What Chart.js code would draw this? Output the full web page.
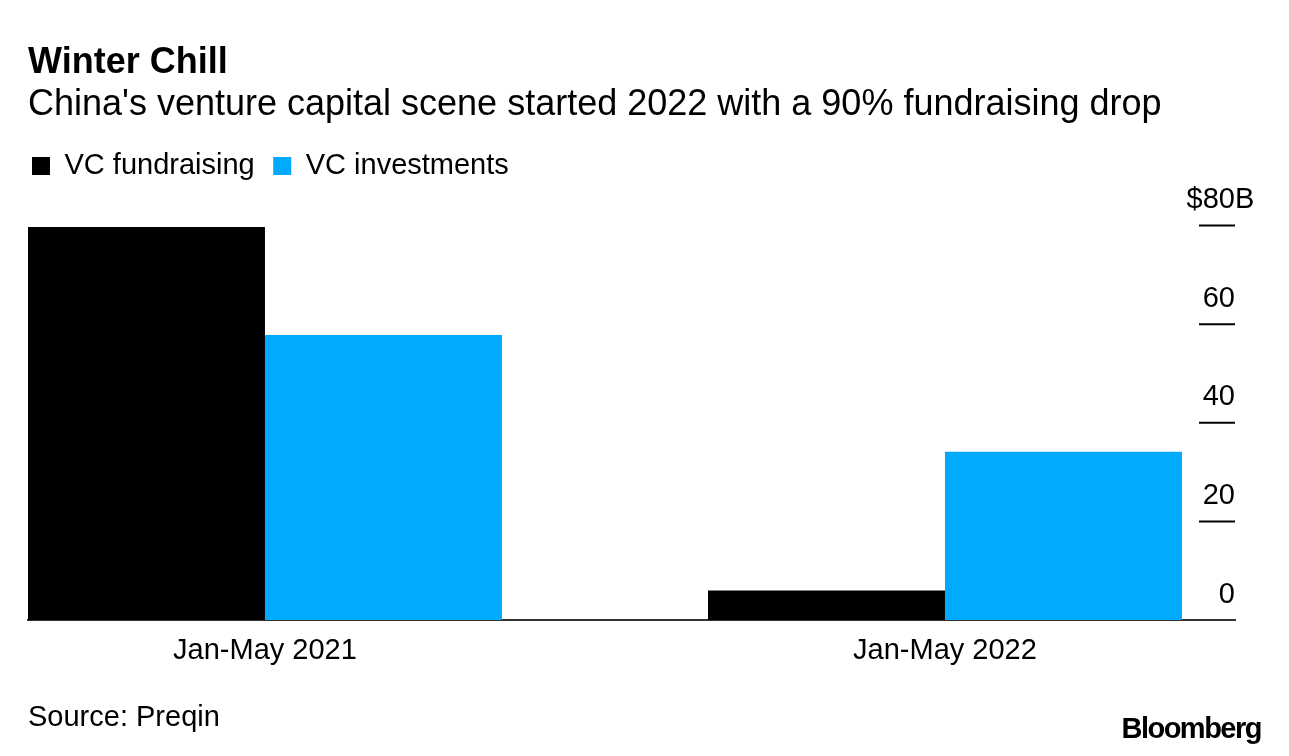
<!DOCTYPE html>
<html>
<head>
<meta charset="utf-8">
<script src="https://cdn.jsdelivr.net/npm/chart.js@4"></script>
<style>
  html, body { margin: 0; padding: 0; background: #fff; }
  #wrap { width: 1289px; height: 756px; position: relative; }
</style>
</head>
<body>
<div id="wrap"><canvas id="c"></canvas></div>
<script>
const categories = ['Jan-May 2021', 'Jan-May 2022'];
const seriesNames = ['VC fundraising', 'VC investments'];
const fundraising = [79.7, 6.0];
const investments = [57.8, 34.1];
const yTickValues = [0, 20, 40, 60, 80];
const yTickLabels = ['0', '20', '40', '60', '80'];
const yPrefix = '$';
const ySuffix = 'B';
const titleText = 'Winter Chill';
const subtitleText = "China's venture capital scene started 2022 with a 90% fundraising drop";
const sourceText = 'Source: Preqin';
const logoText = 'Bloomberg';

const FONT = '"Liberation Sans", Arial, Helvetica, sans-serif';
Chart.defaults.font.family = FONT;
Chart.defaults.color = '#000';

const overlay = {
  id: 'overlay',
  afterDatasetsDraw(chart) {
    const { ctx, chartArea } = chart;
    const ys = chart.scales.y;
    ctx.save();
    ctx.strokeStyle = '#000';
    ctx.lineWidth = 2;
    ctx.fillStyle = '#000';
    ctx.font = '29px ' + FONT;
    ctx.textBaseline = 'middle';
    yTickValues.forEach((v, i) => {
      const py = ys.getPixelForValue(v);
      if (v !== 0) {
        ctx.beginPath();
        ctx.moveTo(chartArea.right - 36, py);
        ctx.lineTo(chartArea.right, py);
        ctx.stroke();
      }
      const ty = py - 25.5;
      const label = yTickLabels[i];
      if (i === yTickValues.length - 1) {
        ctx.textAlign = 'left';
        const w = ctx.measureText(yPrefix + label).width;
        ctx.fillText(yPrefix + label + ySuffix, chartArea.right - w, ty);
      } else {
        ctx.textAlign = 'right';
        ctx.fillText(label, chartArea.right, ty);
      }
    });
    ctx.restore();
  },
  afterDraw(chart) {
    const { ctx } = chart;
    ctx.save();
    ctx.fillStyle = '#000';
    ctx.textBaseline = 'middle';
    ctx.textAlign = 'left';
    ctx.font = '29px ' + FONT;
    ctx.fillText(sourceText, 28, 717.5);
    ctx.font = 'bold 29px ' + FONT;
    ctx.textAlign = 'right';
    try { ctx.letterSpacing = '-1.5px'; } catch (e) {}
    ctx.fillText(logoText, 1261, 730);
    ctx.restore();
  }
};

const chart = new Chart(document.getElementById('c'), {
  type: 'bar',
  data: {
    datasets: [
      {
        label: seriesNames[0],
        data: categories.map((c, i) => ({ x: i, y: fundraising[i] })),
        backgroundColor: '#000000',
        borderWidth: 0
      },
      {
        label: seriesNames[1],
        data: categories.map((c, i) => ({ x: i, y: investments[i] })),
        backgroundColor: '#00aaff',
        borderWidth: 0
      }
    ]
  },
  options: {
    responsive: true,
    maintainAspectRatio: false,
    animation: false,
    events: [],
    barPercentage: 1.0,
    categoryPercentage: 0.697,
    layout: { padding: { top: 45.5, left: 28, right: 54, bottom: 88 } },
    plugins: {
      tooltip: { enabled: false },
      title: {
        display: true,
        text: titleText,
        align: 'start',
        color: '#000',
        font: { size: 36, weight: 'bold', lineHeight: 1 },
        padding: { top: 0, bottom: 0 }
      },
      subtitle: {
        display: true,
        text: subtitleText,
        align: 'start',
        color: '#000',
        font: { size: 36, weight: 'normal', lineHeight: 1 },
        padding: { top: 6, bottom: 24 }
      },
      legend: {
        display: true,
        position: 'top',
        align: 'start',
        labels: {
          boxWidth: 18,
          boxHeight: 18,
          padding: 4,
          color: '#000',
          font: { size: 29 },
          generateLabels(ch) {
            const items = Chart.defaults.plugins.legend.labels.generateLabels(ch);
            return items.map((it, i) => Object.assign({}, it, {
              text: i < items.length - 1 ? it.text + '\u2002' : it.text,
              lineWidth: 0
            }));
          }
        }
      }
    },
    scales: {
      x: {
        type: 'linear',
        position: 'bottom',
        min: -0.3485,
        max: 1.4265,
        offset: false,
        z: 1,
        grid: { display: false, drawTicks: false },
        border: { display: true, color: '#333', width: 2 },
        ticks: {
          padding: 14,
          color: '#000',
          font: { size: 29 },
          maxRotation: 0,
          autoSkip: false,
          callback: (v) => (categories[v] !== undefined ? categories[v] : '')
        },
        afterBuildTicks: (s) => { s.ticks = categories.map((c, i) => ({ value: i })); },
        afterFit: (s) => { s.height = 48; }
      },
      gap: {
        type: 'linear',
        position: 'top',
        display: true,
        grid: { display: false, drawTicks: false },
        border: { display: false },
        ticks: { display: false },
        afterFit: (s) => { s.height = 35; }
      },
      y: {
        type: 'linear',
        display: false,
        min: 0,
        max: 80,
        ticks: { stepSize: 20 }
      }
    }
  },
  plugins: [overlay]
});
</script>
</body>
</html>
